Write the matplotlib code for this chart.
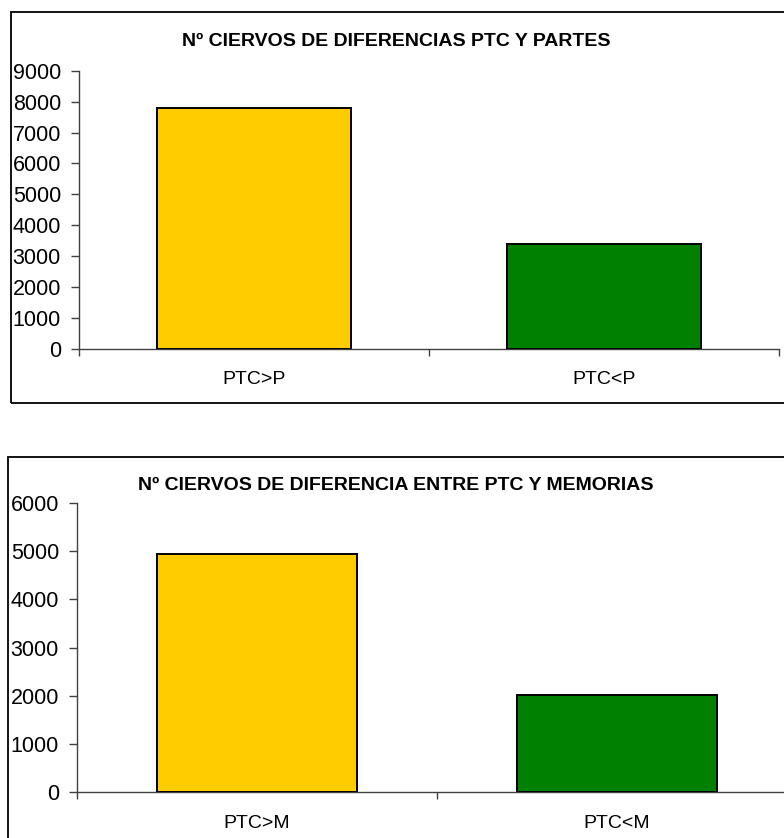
import matplotlib
matplotlib.use("Agg")
import matplotlib.pyplot as plt
from matplotlib.patches import Rectangle

plt.rcParams['font.family'] = ['Liberation Sans', 'DejaVu Sans']

# datos
titulo1 = 'Nº CIERVOS DE DIFERENCIAS PTC Y PARTES'
cats1 = ['PTC>P', 'PTC<P']
vals1 = [7780, 3390]
yticks1 = list(range(0, 9001, 1000))

titulo2 = 'Nº CIERVOS DE DIFERENCIA ENTRE PTC Y MEMORIAS'
cats2 = ['PTC>M', 'PTC<M']
vals2 = [4950, 2010]
yticks2 = list(range(0, 6001, 1000))

colores = ['#FFCC00', '#008000']

W, H = 784, 838
fig = plt.figure(figsize=(W / 100, H / 100), dpi=100)


def px(x0, y0, x1, y1):
    # caja en pixeles (desde arriba) -> fraccion de figura
    return [x0 / W, 1 - y1 / H, (x1 - x0) / W, (y1 - y0) / H]


def grafico(rect, caja, titulo, ty, cats, vals, yticks, lab_pad, tick_pad):
    b = px(*caja)
    fig.add_artist(Rectangle((b[0], b[1]), b[2], b[3], transform=fig.transFigure,
                             fill=False, edgecolor='black', linewidth=1.3))
    ax = fig.add_axes(px(*rect))
    x = list(range(len(cats)))
    ax.bar(x, vals, width=0.555, color=colores, edgecolor='black', linewidth=1.4, zorder=3)
    ax.set_xlim(-0.5, len(cats) - 0.5)
    ax.set_ylim(yticks[0], yticks[-1])
    ax.set_yticks(yticks)
    ax.tick_params(axis='y', length=6, width=1, color='#404040', labelsize=15.5, pad=tick_pad)
    ax.set_xticks([i - 0.5 for i in range(len(cats) + 1)])
    ax.set_xticklabels([])
    ax.tick_params(axis='x', which='major', length=5, width=1, color='#404040')
    ax.set_xticks(x, minor=True)
    ax.set_xticklabels(cats, minor=True)
    ax.tick_params(axis='x', which='minor', length=0, labelsize=14, pad=lab_pad)
    for s in ['top', 'right']:
        ax.spines[s].set_visible(False)
    for s in ['left', 'bottom']:
        ax.spines[s].set_color('#404040')
        ax.spines[s].set_linewidth(1)
    fig.text(396 / W, 1 - ty / H, titulo, ha='center', va='center',
             fontsize=14, fontweight='bold')
    return ax


grafico((79, 70.7, 779, 349), (11, 12, 800, 403), titulo1, 42,
        cats1, vals1, yticks1, 15.5, 7)
grafico((77, 503, 797, 792), (8, 457, 810, 860), titulo2, 485,
        cats2, vals2, yticks2, 16.5, 7)

fig.savefig('out.png', dpi=100)
